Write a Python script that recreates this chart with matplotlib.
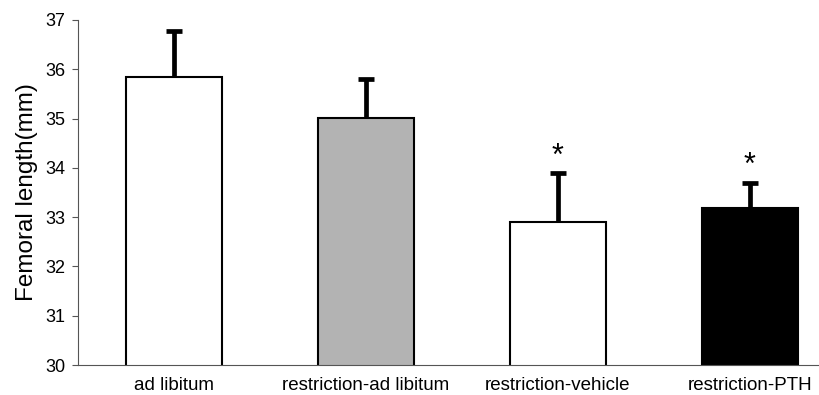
import matplotlib.pyplot as plt
import numpy as np

plt.rcParams['font.family'] = ['Liberation Sans', 'DejaVu Sans']

# values
groups = ['ad libitum', 'restriction-ad libitum', 'restriction-vehicle', 'restriction-PTH']
means = [35.84, 35.01, 32.91, 33.19]
sd = [0.94, 0.79, 0.98, 0.51]
significant = [False, False, True, True]
bar_colors = ['white', '#b3b3b3', 'white', 'black']

fig = plt.figure(figsize=(8.2, 3.95), dpi=100)
# the x axis runs past the right edge of the picture, like the original crop
ax = fig.add_axes([78 / 820, 30 / 395, 768 / 820, 345 / 395])

x = np.arange(len(groups))
ax.bar(x, means, width=0.5, color=bar_colors, edgecolor='black', linewidth=1.5, zorder=2)

# one-sided error bars (upper only)
line, caps, stems = ax.errorbar(x, means, yerr=[np.zeros(len(sd)), sd], fmt='none',
                                ecolor='black', elinewidth=3.4, capsize=5.5, capthick=3.4, zorder=3)
caps[0].set_visible(False)

for xi, m, s, sig in zip(x, means, sd, significant):
    if sig:
        ax.annotate('*', (xi, m + s), xytext=(0, 1), textcoords='offset points',
                    ha='center', va='bottom', fontsize=22)

ax.set_xlim(-0.5, 3.5)
ax.set_ylim(30, 37)
ax.set_yticks(range(30, 38))
ax.set_xticks(x)
ax.set_xticklabels(groups, fontsize=13.5)
ax.tick_params(axis='x', length=0, pad=9)
ax.tick_params(axis='y', labelsize=13, length=4, width=0.8, color='#555555', pad=5)
ax.set_ylabel('Femoral length(mm)', fontsize=17.5, labelpad=5)

for side in ['top', 'right']:
    ax.spines[side].set_visible(False)
ax.spines['left'].set_color('#555555')
ax.spines['bottom'].set_color('#555555')
ax.spines['left'].set_linewidth(0.8)
ax.spines['bottom'].set_linewidth(0.8)

fig.savefig('out.png', dpi=100)
